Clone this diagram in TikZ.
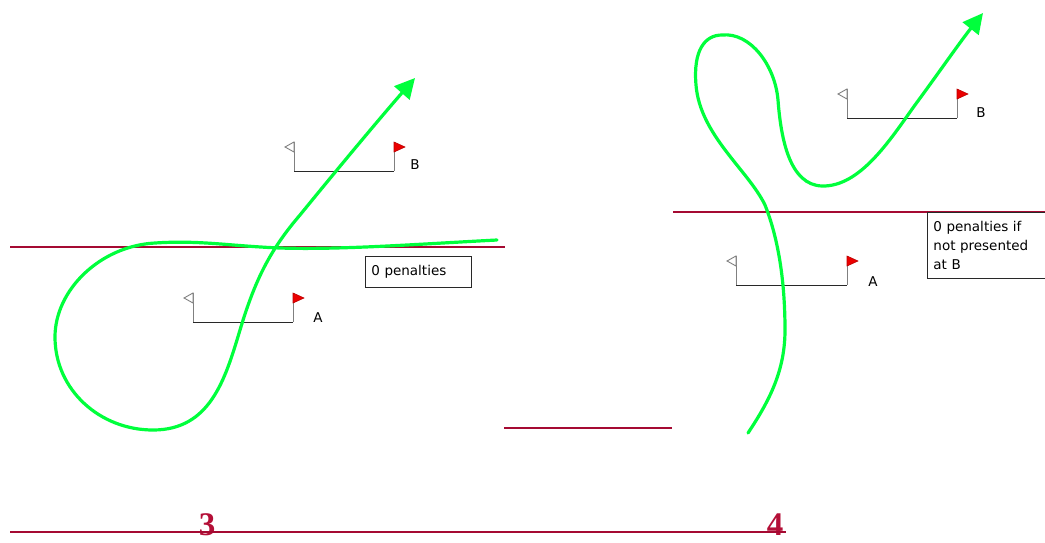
\documentclass[tikz,border=0pt]{standalone}
\usepackage{fontspec}
\setmainfont{DejaVu Sans}
\newfontfamily\numfont{Liberation Serif}
\usetikzlibrary{arrows.meta}
\definecolor{limeline}{RGB}{0,255,60}
\definecolor{boundred}{RGB}{165,10,50}
\definecolor{numred}{RGB}{180,15,55}
\definecolor{polegrey}{RGB}{128,128,128}
\definecolor{baseline}{RGB}{40,40,40}
\definecolor{flagred}{RGB}{235,0,0}
\tikzset{
  boundary/.style={draw=boundred, line width=1.8pt},
  course/.style={draw=limeline, line width=3.2pt, line cap=round,
    -{Triangle[length=20pt,width=20pt]}},
  pole/.style={draw=polegrey, line width=1pt},
  gatebase/.style={draw=baseline, line width=1pt},
  whiteflag/.style={draw=polegrey, fill=white, line width=0.9pt, line join=miter},
  redflag/.style={draw=flagred!80!black, fill=flagred, line width=0.6pt},
  gatelabel/.style={font=\fontsize{13.5}{15}\selectfont, text=black, inner sep=0pt},
  notebox/.style={draw=baseline, line width=0.9pt, fill=white, align=left, anchor=north west,
    font=\fontsize{13.5}{19}\selectfont, inner xsep=6pt, inner ysep=5pt},
  bignum/.style={font=\numfont\bfseries\fontsize{33}{33}\selectfont, text=numred, inner sep=0pt}
}
\newcommand\gatepair[4]{% name, left x, right x, top y (bottom = top+29)
  \coordinate (#1-tl) at (#2,#4);
  \coordinate (#1-bl) at (#2,#4+29);
  \coordinate (#1-tr) at (#3,#4);
  \coordinate (#1-br) at (#3,#4+29);
  \draw[pole] (#1-tl) -- (#1-bl);
  \draw[pole] (#1-tr) -- (#1-br);
  \draw[gatebase] (#1-bl) -- (#1-br);
  \draw[whiteflag] (#1-tl) -- ++(-9,5) -- ++(9,5) -- cycle;
  \draw[redflag] (#1-tr) -- ++(11,5) -- ++(-11,5) -- cycle;
}
\begin{document}
\begin{tikzpicture}[x=1pt,y=-1pt]
\useasboundingbox (0,0) rectangle (1045,542);
% boundary lines
\coordinate (l3a) at (10,247); \coordinate (l3b) at (505,247);
\coordinate (l4a) at (673,212); \coordinate (l4b) at (1045,212);
\coordinate (lma) at (504,428); \coordinate (lmb) at (672,428);
\coordinate (lba) at (10,532); \coordinate (lbb) at (786,532);
\draw[boundary] (l3a) -- (l3b);
\draw[boundary] (l4a) -- (l4b);
\draw[boundary] (lma) -- (lmb);
% numbers
\node[bignum] (n3) at (207,525) {3};
\node[bignum] (n4) at (775,525) {4};
\draw[boundary] (lba) -- (lbb);
% gates panel 3
\gatepair{a3}{193}{293}{293}
\gatepair{b3}{294}{394}{142}
\node[gatelabel] (la3) at (318,318) {A};
\node[gatelabel] (lb3) at (415,165) {B};
% gates panel 4
\gatepair{a4}{736}{847}{256}
\gatepair{b4}{847}{957}{89}
\node[gatelabel] (la4) at (873,282) {A};
\node[gatelabel] (lb4) at (981,113) {B};
% note boxes
\node[notebox, text width=94pt, minimum height=31pt] (box3) at (365,256) {0 penalties};
\node[notebox, text width=113pt, minimum height=66pt] (box4) at (927,212) {0 penalties if\\not presented\\at B};
% course of panel 3
\coordinate (c3s) at (497,240);
\coordinate (c3e) at (415,78);
\draw[course] (c3s)
  .. controls (420,244) and (340,250) .. (280,248)
  .. controls (230,246) and (200,240) .. (155,243)
  .. controls (100,246) and (55,290) .. (55,337)
  .. controls (55,390) and (100,430) .. (153,430)
  .. controls (210,430) and (225,380) .. (240,330)
  .. controls (255,280) and (270,250) .. (300,215)
  .. controls (335,172) and (380,118) .. (c3e);
% course of panel 4
\coordinate (c4s) at (748,433);
\coordinate (c4e) at (983,13);
\draw[course] (c4s)
  .. controls (770,400) and (785,370) .. (785,330)
  .. controls (785,270) and (775,230) .. (765,205)
  .. controls (748,170) and (700,135) .. (696,85)
  .. controls (693,50) and (705,35) .. (722,35)
  .. controls (750,32) and (775,65) .. (778,100)
  .. controls (781,140) and (790,185) .. (822,186)
  .. controls (860,187) and (890,140) .. (915,105)
  .. controls (935,78) and (960,42) .. (c4e);
\end{tikzpicture}
\end{document}
